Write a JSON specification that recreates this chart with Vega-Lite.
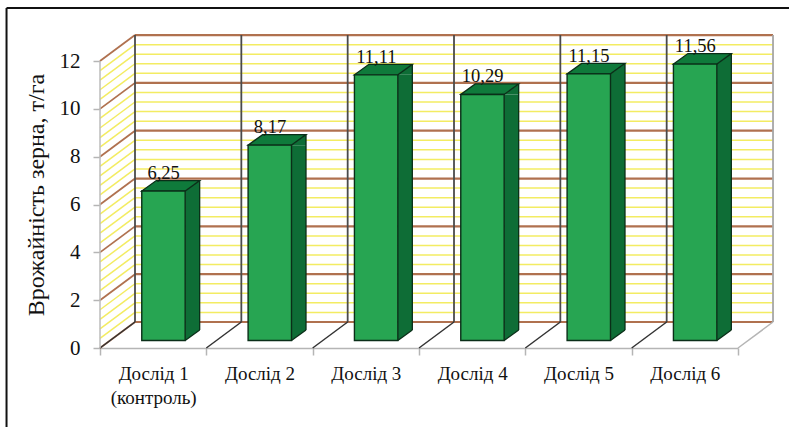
{
"$schema":"https://vega.github.io/schema/vega-lite/v6.json",
"width":673,"height":313,
"autosize":{"type":"none"},
"padding":{"left":100,"top":35,"right":16,"bottom":79},
"background":"white",
"config":{"view":{"stroke":null},"font":"Liberation Serif","axis":{"labelFont":"Liberation Serif","titleFont":"Liberation Serif"}},
"datasets":{
"yields":[
{"dosl":"Дослід 1 (контроль)","v":6.25,"lab":"6,25"},
{"dosl":"Дослід 2","v":8.17,"lab":"8,17"},
{"dosl":"Дослід 3","v":11.11,"lab":"11,11"},
{"dosl":"Дослід 4","v":10.29,"lab":"10,29"},
{"dosl":"Дослід 5","v":11.15,"lab":"11,15"},
{"dosl":"Дослід 6","v":11.56,"lab":"11,56"}
],
"minor":[{"lvl":0.4},{"lvl":0.8},{"lvl":1.2},{"lvl":1.6},{"lvl":2.4},{"lvl":2.8},{"lvl":3.2},{"lvl":3.6},{"lvl":4.4},{"lvl":4.8},{"lvl":5.2},{"lvl":5.6},{"lvl":6.4},{"lvl":6.8},{"lvl":7.2},{"lvl":7.6},{"lvl":8.4},{"lvl":8.8},{"lvl":9.2},{"lvl":9.6},{"lvl":10.4},{"lvl":10.8},{"lvl":11.2},{"lvl":11.6}],
"major":[{"lvl":0},{"lvl":2},{"lvl":4},{"lvl":6},{"lvl":8},{"lvl":10},{"lvl":12}],
"inner":[{"t":0},{"t":1},{"t":2},{"t":3},{"t":4},{"t":5}],
"outer":[{"t":6}]
},
"resolve":{"scale":{"x":"independent"},"axis":{"y":"independent","x":"independent"}},
"layer":[
{"resolve":{"axis":{"y":"independent","x":"independent"}},"layer":[
{"data":{"name":"minor"},"mark":{"type":"rule","color":"#f3ec62","strokeWidth":1.5,"x2Offset":35,"y2Offset":-26},
 "encoding":{"x":{"datum":0,"type":"quantitative","scale":{"domain":[0,6.329],"nice":false},"axis":null},"x2":{"datum":0},"y":{"field":"lvl","type":"quantitative","scale":{"domain":[0,13.09],"nice":false},"axis":null},"y2":{"field":"lvl"}}},
{"data":{"name":"minor"},"mark":{"type":"rule","color":"#f3ec62","strokeWidth":1.5,"xOffset":35,"x2Offset":35,"yOffset":-26},
 "encoding":{"x":{"datum":0,"type":"quantitative","scale":{"domain":[0,6.329],"nice":false},"axis":null},"x2":{"datum":6},"y":{"field":"lvl","type":"quantitative","scale":{"domain":[0,13.09],"nice":false},"axis":null}}},
{"data":{"name":"major"},"mark":{"type":"rule","color":"#b0714f","strokeWidth":1.8,"x2Offset":35,"y2Offset":-26},
 "encoding":{"x":{"datum":0,"type":"quantitative","scale":{"domain":[0,6.329],"nice":false},"axis":null},"x2":{"datum":0},"y":{"field":"lvl","type":"quantitative","scale":{"domain":[0,13.09],"nice":false},"axis":null},"y2":{"field":"lvl"}}},
{"data":{"name":"major"},"mark":{"type":"rule","color":"#b0714f","strokeWidth":2.2,"xOffset":35,"x2Offset":35,"yOffset":-26},
 "encoding":{"x":{"datum":0,"type":"quantitative","scale":{"domain":[0,6.329],"nice":false},"axis":null},"x2":{"datum":6},"y":{"field":"lvl","type":"quantitative","scale":{"domain":[0,13.09],"nice":false},"axis":null}}},
{"data":{"name":"inner"},"mark":{"type":"rule","color":"#4a4a4a","strokeWidth":1.8,"xOffset":35},
 "encoding":{"x":{"field":"t","type":"quantitative","scale":{"domain":[0,6.329],"nice":false},"axis":null},"y":{"datum":1.09,"type":"quantitative","scale":{"domain":[0,13.09],"nice":false},"axis":null},"y2":{"datum":13.09}}},
{"data":{"name":"inner"},"mark":{"type":"rule","color":"#333333","strokeWidth":1.5,"x2Offset":35,"y2Offset":-26},
 "encoding":{"x":{"field":"t","type":"quantitative","scale":{"domain":[0,6.329],"nice":false},"axis":null},"x2":{"field":"t"},"y":{"datum":0,"type":"quantitative","scale":{"domain":[0,13.09],"nice":false},"axis":null},"y2":{"datum":0}}},
{"data":{"name":"outer"},"mark":{"type":"rule","color":"#a6a6a6","strokeWidth":1.8,"xOffset":35},
 "encoding":{"x":{"field":"t","type":"quantitative","scale":{"domain":[0,6.329],"nice":false},"axis":null},"y":{"datum":1.09,"type":"quantitative","scale":{"domain":[0,13.09],"nice":false},"axis":null},"y2":{"datum":13.09}}},
{"data":{"name":"outer"},"mark":{"type":"rule","color":"#b5b5b5","strokeWidth":1.5,"x2Offset":35,"y2Offset":-26},
 "encoding":{"x":{"field":"t","type":"quantitative","scale":{"domain":[0,6.329],"nice":false},"axis":null},"x2":{"field":"t"},"y":{"datum":0,"type":"quantitative","scale":{"domain":[0,13.09],"nice":false},"axis":null},"y2":{"datum":0}}},
{"data":{"values":[{"a":1}]},"mark":{"type":"rule","color":"#bdbdbd","strokeWidth":1.5},
 "encoding":{"x":{"datum":0,"type":"quantitative","scale":{"domain":[0,6.329],"nice":false},"axis":null},"y":{"datum":0,"type":"quantitative","scale":{"domain":[0,13.09],"nice":false},"axis":null},"y2":{"datum":12}}},
{"data":{"values":[{"a":1}]},"mark":{"type":"rule","color":"#111111","strokeWidth":2},
 "encoding":{"x":{"datum":-0.879,"type":"quantitative","scale":{"domain":[0,6.329],"nice":false},"axis":null},"x2":{"datum":6.48},"y":{"datum":14.22,"type":"quantitative","scale":{"domain":[0,13.09],"nice":false},"axis":null}}},
{"data":{"values":[{"a":1}]},"mark":{"type":"rule","color":"#111111","strokeWidth":2},
 "encoding":{"x":{"datum":-0.879,"type":"quantitative","scale":{"domain":[0,6.329],"nice":false},"axis":null},"y":{"datum":14.22,"type":"quantitative","scale":{"domain":[0,13.09],"nice":false},"axis":null},"y2":{"datum":-3.3}}}
]},
{"data":{"name":"yields"},
 "resolve":{"axis":{"y":"independent","x":"independent"}},
 "encoding":{
  "x":{"field":"dosl","type":"nominal","sort":null,"title":null,"scale":{"range":[0,638],"paddingInner":0,"paddingOuter":0},
   "axis":null},
  "y":{"field":"v","type":"quantitative","scale":{"domain":[0,13.09],"nice":false},"axis":null}
 },
 "layer":[
 {"mark":{"type":"bar","fill":"#0e6d36","width":14.5,"xOffset":39.25,"yOffset":-7.5,"y2Offset":-18},"encoding":{"y2":{"datum":0}}},
 {"mark":{"type":"point","filled":true,"opacity":1,"size":4,"fill":"#0e6d36","strokeWidth":0,"shape":"M32,-7.5 L46.5,-18 L46.5,-7.5 Z"}},
 {"mark":{"type":"point","filled":true,"opacity":1,"size":4,"fill":"#0e6d36","strokeWidth":0,"shape":"M32,-7.5 L46.5,-18 L32,-18 Z"},"encoding":{"y":{"datum":0,"type":"quantitative","axis":null,"title":null}}},
 {"mark":{"type":"rule","color":"#0a2e18","strokeWidth":1.3,"xOffset":46.5,"yOffset":-18,"y2Offset":-18},"encoding":{"y2":{"datum":0}}},
 {"mark":{"type":"point","filled":false,"opacity":1,"size":4,"stroke":"#0a2e18","strokeWidth":1.3,"shape":"M32,-7.5 L46.5,-18"},"encoding":{"y":{"datum":0,"type":"quantitative","axis":null,"title":null}}},
 {"mark":{"type":"point","filled":true,"opacity":1,"size":4,"fill":"#0f7a3b","stroke":"#0a2e18","strokeWidth":1.3,"shape":"M-11.4,-7.5 L32,-7.5 L46.5,-18 L3.1,-18 Z"}},
 {"mark":{"type":"bar","fill":"#27a552","stroke":"#0a2e18","strokeWidth":1.4,"width":43.4,"xOffset":10.3,"yOffset":-7.5,"y2Offset":-7.5},"encoding":{"y2":{"datum":0},
  "x":{"field":"dosl","type":"nominal","sort":null,"title":null,"scale":{"range":[0,638],"paddingInner":0,"paddingOuter":0},
   "axis":{"labelAngle":0,"labelFontSize":19,"labelColor":"#111111","labelPadding":9,"labelLineHeight":24,"labelLimit":200,"tickBand":"extent","tickSize":7,"tickColor":"#b5b5b5","tickWidth":1.5,"domainColor":"#b5b5b5","domainWidth":1.5,
   "labelExpr":"datum.value === 'Дослід 1 (контроль)' ? ['Дослід 1','(контроль)'] : datum.value"}},
  "y":{"field":"v","type":"quantitative","title":"Врожайність зерна, т/га","scale":{"domain":[0,13.09],"nice":false},
   "axis":{"values":[0,2,4,6,8,10,12],"domain":false,"grid":false,"labelFontSize":21,"labelColor":"#111111","labelPadding":13,"tickSize":7,"tickColor":"#b5b5b5","tickWidth":1.5,"titleFontSize":24,"titleFontWeight":"normal","titleColor":"#111111","titlePadding":11,"titleY":159.5}}}},
 {"mark":{"type":"text","fontSize":18.5,"color":"#111111","baseline":"alphabetic","align":"center","xOffset":10.5,"yOffset":-19.7},"encoding":{"text":{"field":"lab"}}}
 ]}
]
}
